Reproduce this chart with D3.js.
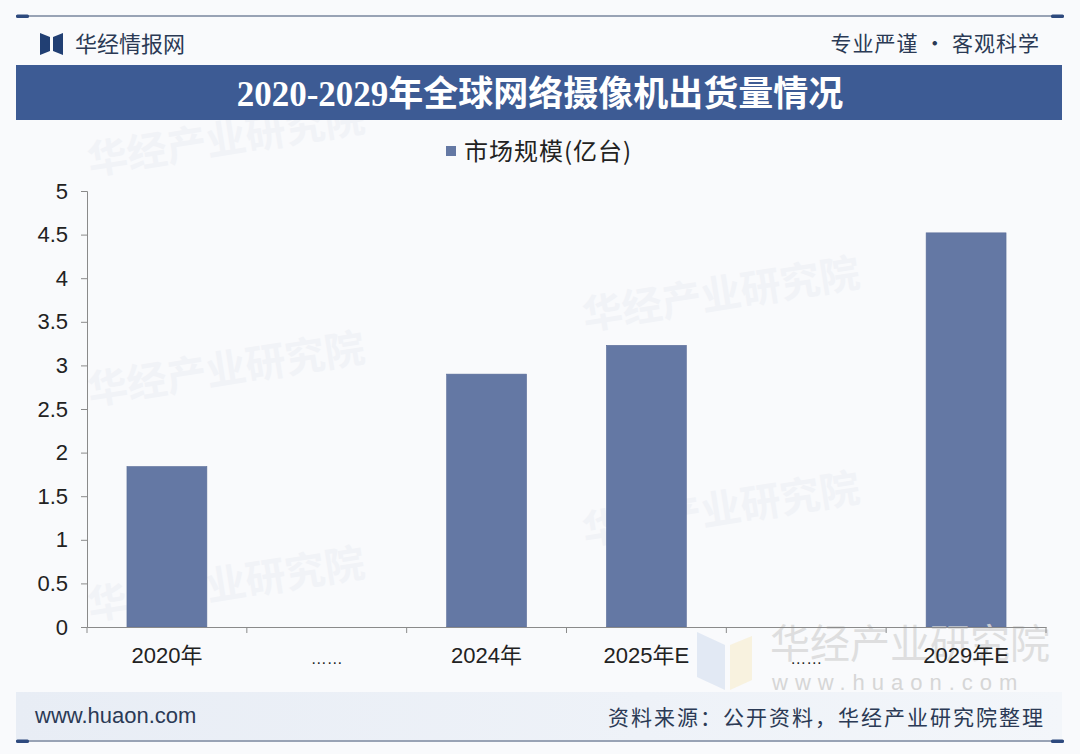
<!DOCTYPE html>
<html><head><meta charset="utf-8">
<script src="https://cdn.jsdelivr.net/npm/d3@7"></script>
<style>
html,body{margin:0;padding:0;background:#f9fafc;}
svg{display:block;}
</style></head>
<body>
<svg id="c" width="1080" height="754"></svg>
<script>
const categories = ["2020年","……","2024年","2025年E","……","2029年E"];
const values = [1.84, null, 2.90, 3.23, null, 4.52];
const yTickValues = [0,0.5,1,1.5,2,2.5,3,3.5,4,4.5,5];
const seriesName = "市场规模(亿台)";
const title = "2020-2029年全球网络摄像机出货量情况";

const svg = d3.select("#c");
const W = 1080, H = 754;
const sans = "'Liberation Sans','Noto Sans CJK SC',sans-serif";
const cjk = "'Noto Sans CJK SC','Liberation Sans',sans-serif";

const defs = svg.append("defs");
const fg = defs.append("linearGradient").attr("id","fg").attr("x1","0").attr("x2","1");
fg.append("stop").attr("offset","0").attr("stop-color","#e8edf5");
fg.append("stop").attr("offset","0.6").attr("stop-color","#eef2f8");
fg.append("stop").attr("offset","1").attr("stop-color","#f3f6fa");

svg.append("rect").attr("width",W).attr("height",H).attr("fill","#f9fafc");

// faint watermarks in plot
const wm = [[90,175],[90,405],[90,620],[585,330],[585,545]];
wm.forEach(([x,y])=>{
  svg.append("text").attr("x",x).attr("y",y)
    .attr("transform",`rotate(-9,${x},${y})`)
    .attr("font-family",cjk).attr("font-size",40).attr("font-weight","bold")
    .attr("fill","#f1f3f7").text("华经产业研究院");
});

// top rule
svg.append("line").attr("x1",16).attr("x2",1064).attr("y1",16).attr("y2",16)
  .attr("stroke","#3b4d6e").attr("stroke-width",1.2);
svg.append("rect").attr("x",16).attr("y",14.5).attr("width",13).attr("height",3.5).attr("rx",1.5).attr("fill","#2e4a7e");
svg.append("rect").attr("x",1051).attr("y",14.5).attr("width",13).attr("height",3.5).attr("rx",1.5).attr("fill","#2e4a7e");

// logo
svg.append("path").attr("d","M40,33 L50,37 L50,51 L40,55 Z").attr("fill","#213f73");
svg.append("path").attr("d","M63,33 L53,37 L53,51 L63,55 Z").attr("fill","#213f73");
svg.append("text").attr("x",75).attr("y",52).attr("font-family",cjk).attr("font-size",22)
  .attr("fill","#2b3a55").text("华经情报网");
svg.append("text").attr("x",1040).attr("y",51).attr("text-anchor","end").attr("font-family",cjk)
  .attr("font-size",21).attr("letter-spacing",1).attr("fill","#2b3a55").text("专业严谨 • 客观科学");

// banner
svg.append("rect").attr("x",16).attr("y",65).attr("width",1046).attr("height",55).attr("fill","#3d5b94");
svg.append("text").attr("x",540).attr("y",106).attr("text-anchor","middle")
  .attr("font-family","'Liberation Serif','Noto Sans CJK SC',serif").attr("font-weight","bold")
  .attr("font-size",35).attr("fill","#ffffff").text(title);

// legend
svg.append("rect").attr("x",446).attr("y",146).attr("width",10).attr("height",10).attr("fill","#6478a4");
svg.append("text").attr("x",464).attr("y",160).attr("font-family",cjk).attr("font-size",24)
  .attr("letter-spacing",1).attr("fill","#222").text(seriesName);

// scales
const x0 = 87, x1 = 1046, yTop = 191, yBot = 627;
const x = d3.scaleBand().domain(d3.range(categories.length)).range([x0,x1]).paddingInner(0.5).paddingOuter(0.25);
const y = d3.scaleLinear().domain([0,5]).range([yBot,yTop]);

// bars
svg.append("g").selectAll("rect").data(values.map((v,i)=>({v,i})).filter(d=>d.v!=null))
  .join("rect")
  .attr("x",d=>x(d.i)).attr("width",x.bandwidth())
  .attr("y",d=>y(d.v)).attr("height",d=>y(0)-y(d.v))
  .attr("fill","#6478a4").attr("stroke","#5a6d98").attr("stroke-width",0.6);

// y axis
const ya = svg.append("g").attr("transform",`translate(${x0},0)`)
  .call(d3.axisLeft(y).tickValues(yTickValues).tickSize(6).tickPadding(13).tickFormat(d=>String(d)));
ya.select(".domain").attr("stroke","#8a8a8a");
ya.selectAll(".tick line").attr("stroke","#8a8a8a");
ya.selectAll("text").attr("font-family",sans).attr("font-size",22).attr("fill","#222");

// footer band
svg.append("rect").attr("x",16).attr("y",692).attr("width",1046).attr("height",48).attr("fill","url(#fg)");

// bottom-right watermark
svg.append("path").attr("d","M697,632 L725,645 L725,690 L697,677 Z").attr("fill","#dfe7f3").attr("opacity",0.9);
svg.append("path").attr("d","M730,645 L752,636 L752,680 L730,690 Z").attr("fill","#f7f1dc").attr("opacity",0.9);
svg.append("text").attr("x",770).attr("y",658).attr("font-family",cjk).attr("font-size",40)
  .attr("fill","#dadada").attr("opacity",0.85).text("华经产业研究院");
svg.append("text").attr("x",772).attr("y",690).attr("font-family",sans).attr("font-size",22)
  .attr("letter-spacing",7).attr("fill","#d6d6d6").text("www.huaon.com");

// x axis
const xa = svg.append("g").attr("transform",`translate(0,${yBot})`)
  .call(d3.axisBottom(x).tickSize(0).tickPadding(20).tickFormat(i=>categories[i]));
xa.select(".domain").attr("stroke","#8a8a8a");
xa.selectAll("text").attr("font-family",sans).attr("font-size",22).attr("fill","#222");
xa.selectAll(".tick").filter(i=>categories[i]==="……").select("text").attr("font-size",16).attr("dy","1.05em");
const bounds = d3.range(categories.length+1).map(i=>x0 + i*(x1-x0)/categories.length);
xa.selectAll(".bt").data(bounds).join("line").attr("class","bt")
  .attr("x1",d=>d).attr("x2",d=>d).attr("y1",0).attr("y2",6).attr("stroke","#8a8a8a");

svg.append("text").attr("x",35).attr("y",723).attr("font-family",sans).attr("font-size",22)
  .attr("fill","#2b3a55").text("www.huaon.com");
svg.append("text").attr("x",1045).attr("y",725).attr("text-anchor","end").attr("font-family",cjk)
  .attr("font-size",21).attr("letter-spacing",2).attr("fill","#2b3a55").text("资料来源：公开资料，华经产业研究院整理");

// bottom rule
svg.append("line").attr("x1",16).attr("x2",1064).attr("y1",741).attr("y2",741)
  .attr("stroke","#3b4d6e").attr("stroke-width",1.2);
svg.append("rect").attr("x",16).attr("y",739.5).attr("width",13).attr("height",3.5).attr("rx",1.5).attr("fill","#2e4a7e");
svg.append("rect").attr("x",1051).attr("y",739.5).attr("width",13).attr("height",3.5).attr("rx",1.5).attr("fill","#2e4a7e");
</script>
</body></html>
